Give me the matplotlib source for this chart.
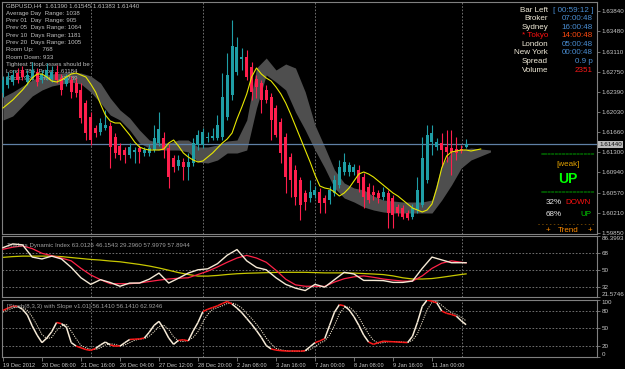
import numpy as np
import matplotlib
matplotlib.use("Agg")
import matplotlib.pyplot as plt
from matplotlib.collections import LineCollection
from matplotlib.transforms import blended_transform_factory

# ---------------- data (GBPUSD, H4) ----------------
opens = [1.62366, 1.6251, 1.62564, 1.62726, 1.6278, 1.62564, 1.62636, 1.62744,
         1.626, 1.62636, 1.62618, 1.62744, 1.62636, 1.62528, 1.626, 1.62546,
         1.6242, 1.62186, 1.61934, 1.61736, 1.61664, 1.61736, 1.61772, 1.61574,
         1.61412, 1.6134, 1.6125, 1.61304, 1.61376, 1.61286, 1.61286, 1.6134,
         1.61466, 1.61556, 1.61376, 1.61196, 1.61052, 1.61124, 1.61034, 1.61106,
         1.6143, 1.6143, 1.61556, 1.61556, 1.61556, 1.61574, 1.61934, 1.6233,
         1.62744, 1.62978, 1.63014, 1.62834, 1.62618, 1.62546, 1.6242, 1.62294,
         1.62096, 1.61844, 1.61574, 1.61214, 1.6098, 1.608, 1.60566, 1.60476,
         1.6053, 1.60584, 1.60476, 1.6044, 1.60566, 1.6071, 1.60944, 1.60944,
         1.60944, 1.6098, 1.60854, 1.60674, 1.60584, 1.60566, 1.60494, 1.60566,
         1.60476, 1.60314, 1.60296, 1.60206, 1.60134, 1.6026, 1.6035, 1.608,
         1.61484, 1.61394, 1.61466, 1.61394, 1.61376, 1.61358, 1.61358, 1.6139]
highs = [1.62672, 1.62744, 1.6278, 1.62816, 1.62852, 1.6278, 1.62924, 1.62816,
         1.6278, 1.62906, 1.62852, 1.6287, 1.62708, 1.62708, 1.62672, 1.62636,
         1.62546, 1.6224, 1.62024, 1.6179, 1.61916, 1.6206, 1.61844, 1.61646,
         1.61466, 1.61394, 1.61466, 1.61394, 1.6143, 1.61394, 1.61448, 1.6179,
         1.62024, 1.61664, 1.61448, 1.6125, 1.6125, 1.61196, 1.61286, 1.61556,
         1.617, 1.61736, 1.61664, 1.61736, 1.6197, 1.62726, 1.63086, 1.6368,
         1.63374, 1.63176, 1.6314, 1.62924, 1.6269, 1.626, 1.6251, 1.62366,
         1.6215, 1.61916, 1.61646, 1.61286, 1.6107, 1.60854, 1.6062, 1.608,
         1.60692, 1.60656, 1.6053, 1.60692, 1.6089, 1.6116, 1.61286, 1.61124,
         1.61088, 1.6107, 1.60926, 1.60746, 1.6071, 1.6062, 1.60674, 1.6062,
         1.6053, 1.60368, 1.6035, 1.6026, 1.60368, 1.60854, 1.61574, 1.6179,
         1.6179, 1.61556, 1.61646, 1.617, 1.617, 1.61574, 1.6143, 1.61545]
lows = [1.62294, 1.62456, 1.6251, 1.62546, 1.626, 1.6251, 1.626, 1.62492,
        1.62546, 1.626, 1.62564, 1.62546, 1.6233, 1.62492, 1.62276, 1.62294,
        1.61826, 1.6152, 1.6143, 1.61574, 1.6161, 1.617, 1.61016, 1.61196,
        1.6116, 1.61106, 1.61196, 1.61106, 1.61106, 1.61232, 1.61232, 1.61304,
        1.61412, 1.61196, 1.60656, 1.60944, 1.6098, 1.608, 1.608, 1.61052,
        1.6134, 1.61376, 1.61484, 1.6152, 1.6152, 1.6152, 1.6188, 1.6224,
        1.6269, 1.6278, 1.626, 1.6224, 1.62276, 1.62006, 1.62186, 1.6152,
        1.61574, 1.61106, 1.60566, 1.60494, 1.6035, 1.6008, 1.6026, 1.60404,
        1.60476, 1.60206, 1.60206, 1.60368, 1.60512, 1.60656, 1.6089, 1.60872,
        1.6089, 1.60584, 1.60296, 1.60386, 1.6044, 1.60386, 1.6044, 1.59936,
        1.59936, 1.60152, 1.60098, 1.6008, 1.60098, 1.60206, 1.60314, 1.60746,
        1.6125, 1.6134, 1.61034, 1.61124, 1.6089, 1.6116, 1.61286, 1.61383]
closes = [1.626, 1.62654, 1.6269, 1.626, 1.62654, 1.6269, 1.6278, 1.62564,
          1.62708, 1.6278, 1.62744, 1.626, 1.6242, 1.62654, 1.62384, 1.62366,
          1.61916, 1.61646, 1.6152, 1.61646, 1.61826, 1.6179, 1.61394, 1.61286,
          1.6125, 1.6125, 1.61394, 1.6134, 1.61304, 1.6134, 1.61376, 1.61556,
          1.61718, 1.6134, 1.60854, 1.61034, 1.6116, 1.61034, 1.61124, 1.61466,
          1.6161, 1.61664, 1.61574, 1.61592, 1.6179, 1.62294, 1.6269, 1.63212,
          1.63194, 1.63014, 1.62654, 1.62384, 1.62474, 1.6224, 1.6224, 1.6188,
          1.6161, 1.61286, 1.60854, 1.608, 1.60494, 1.6035, 1.60404, 1.60584,
          1.6062, 1.60386, 1.60386, 1.6062, 1.608, 1.61034, 1.61124, 1.6107,
          1.61034, 1.60746, 1.60494, 1.6044, 1.6053, 1.60476, 1.60584, 1.60206,
          1.6017, 1.60206, 1.60134, 1.60116, 1.60296, 1.6062, 1.61196, 1.6161,
          1.61646, 1.61484, 1.6134, 1.61304, 1.61304, 1.61286, 1.61322, 1.6144]

# shifted moving average (yellow), drawn a few bars past the last candle
ma_line = [1.62096, 1.62168, 1.6224, 1.6233, 1.6242, 1.62528, 1.62636, 1.62708,
           1.62708, 1.62654, 1.62582, 1.62564, 1.626, 1.62654, 1.62708, 1.62726,
           1.6269, 1.62654, 1.62528, 1.62384, 1.62168, 1.6197, 1.61862, 1.61826,
           1.61826, 1.61718, 1.6161, 1.61484, 1.61394, 1.61358, 1.6134, 1.6134,
           1.6134, 1.61358, 1.61466, 1.6152, 1.61412, 1.61286, 1.61214, 1.6116,
           1.61124, 1.61142, 1.61214, 1.61286, 1.61376, 1.61466, 1.61538, 1.61646,
           1.61898, 1.62114, 1.62348, 1.62654, 1.62816, 1.62708, 1.62636, 1.62582,
           1.62474, 1.62348, 1.62186, 1.61988, 1.61772, 1.61556, 1.6134, 1.61124,
           1.6089, 1.60692, 1.60656, 1.60638, 1.60584, 1.60512, 1.60566, 1.60656,
           1.60782, 1.60908, 1.60944, 1.60908, 1.60854, 1.60782, 1.6071, 1.60638,
           1.60566, 1.60512, 1.6044, 1.60368, 1.60296, 1.6026, 1.60224, 1.6026,
           1.60368, 1.60656, 1.61016, 1.61232, 1.61304, 1.61322, 1.6134, 1.6134,
           1.61322, 1.6134, 1.61358]

# grey shifted channel (every second bar)
band_idx = list(range(0, 101, 2))
band_upper = [1.62294, 1.62384, 1.62492, 1.626, 1.62672, 1.62708, 1.62726, 1.62744,
              1.62726, 1.62672, 1.62546, 1.62276, 1.6206, 1.61916, 1.617, 1.6152,
              1.61466, 1.61466, 1.6152, 1.6152, 1.61394, 1.61394, 1.6143, 1.61502,
              1.6152, 1.6188, 1.62816, 1.62996, 1.6278, 1.62888, 1.62816, 1.62384,
              1.6179, 1.61394, 1.6098, 1.60746, 1.60656, 1.6062, 1.60512, 1.6044,
              1.60422, 1.60404, 1.60404, 1.60404, 1.6044, 1.6107, 1.61304, 1.6134,
              1.61376, 1.61358, 1.6134]
band_lower = [1.6188, 1.61952, 1.62132, 1.62312, 1.6242, 1.62492, 1.62528, 1.62564,
              1.62528, 1.62384, 1.62186, 1.6197, 1.6188, 1.617, 1.61466, 1.61376,
              1.6134, 1.6134, 1.6134, 1.61304, 1.61124, 1.61106, 1.6116, 1.61286,
              1.61286, 1.6134, 1.62096, 1.6269, 1.62564, 1.6242, 1.62024, 1.617,
              1.6134, 1.61016, 1.60656, 1.60476, 1.60404, 1.60314, 1.6026, 1.60224,
              1.60206, 1.60206, 1.60206, 1.60206, 1.60206, 1.6044, 1.6071, 1.61016,
              1.6116, 1.61232, 1.61304]
last_price = 1.61440

# Traders Dynamic Index
tdi_idx = list(range(0, 96, 2)) + [95]
tdi_price = [74, 78, 77, 64, 62, 65, 62, 53, 42, 35, 40, 37, 33, 36.4, 36.4, 40.5,
             47, 36.4, 41.5, 47, 50.5, 51.5, 57, 66, 72, 60, 53, 50.5, 42, 35, 31, 28.4,
             35, 32.1, 40, 47.8, 46, 39.2, 39.2, 39, 37.1, 37.1, 38.5, 52, 64, 61, 58, 58, 58.0]
tdi_signal = [72.3, 74.5, 75.9, 73, 68, 65.5, 63, 60, 52, 45, 40, 35.7, 35.7, 35.7, 36.5, 38,
              39.5, 40.7, 41.5, 42, 45.5, 49, 53.5, 58.5, 63, 65.8, 63, 58.5, 50, 40.5, 34.5, 33,
              33, 32.8, 37.5, 41, 43, 44, 42.5, 40.7, 39.5, 38.5, 38.5, 44, 52, 57.5, 60, 58.5, 57.9]
tdi_base = [63.7, 64.5, 65, 65, 65, 65, 64.5, 63.5, 62.5, 61.5, 60.8, 59.8, 59, 57.6, 56.2, 54.5,
            52.4, 50, 47.5, 45.5, 43.8, 43.8, 44.5, 45.5, 46.3, 46.8, 47.1, 47.4, 47.7, 47.8, 47.8, 47.8,
            47.5, 47.2, 47.2, 47.2, 47, 46.5, 46, 45.4, 44, 42, 40.7, 40.7, 41.2, 42.5, 44, 45.5, 46.15]

# Stochastic (8,3,3)
stoch_main = [81, 85, 88.5, 88, 83, 73, 54, 38, 25, 33, 44, 60, 58, 52, 25, 19,
              16, 13, 11.5, 15, 21, 26, 21, 18.8, 18.8, 25, 30.5, 31, 31.5, 33, 43, 55,
              62, 49, 33, 22, 29, 30, 28, 45, 60, 79, 83, 86, 89, 93, 96.5, 92,
              85, 77, 67, 57, 46, 34, 20, 14, 12, 11, 10.5, 10, 10, 10, 11, 18,
              25, 28, 32, 55, 78, 91, 89, 82, 70, 55, 38, 26, 22, 25, 27.5, 27,
              26.5, 26, 25.5, 25, 36, 60, 88, 99, 97, 94, 80, 76, 74, 71, 63, 56.14]
stoch_signal = [78, 82, 85, 87.5, 86.5, 81, 70, 55, 39, 32, 34, 46, 54, 57, 45, 32,
                20, 16, 13.5, 13, 16, 21, 23, 22, 19.5, 21, 25, 29, 31, 32, 36, 44,
                53, 55, 48, 35, 28, 27, 29, 34, 44, 61, 74, 83, 86, 89, 93, 94,
                91, 85, 76, 67, 57, 46, 33, 23, 15, 12.5, 11, 10.5, 10, 10, 10.5, 13,
                18, 24, 28, 38, 55, 75, 86, 87, 80, 69, 54, 40, 29, 24, 25, 26.5,
                27, 26.5, 26, 25.5, 29, 40, 61, 82, 95, 97, 90, 83, 77, 74, 69, 62.92]

time_ticks = list(range(0, 89, 8))
time_labels = ["19 Dec 2012", "20 Dec 08:00", "21 Dec 16:00", "26 Dec 04:00",
               "27 Dec 12:00", "28 Dec 20:00", "2 Jan 08:00", "3 Jan 16:00",
               "7 Jan 00:00", "8 Jan 08:00", "9 Jan 16:00", "11 Jan 00:00"]
price_ticks = [1.63840, 1.63480, 1.63110, 1.62750, 1.62390, 1.62030,
               1.61660, 1.61300, 1.60940, 1.60570, 1.60210, 1.59850]

# ---------------- style ----------------
plt.rcParams['font.family'] = ['Liberation Sans Narrow', 'Liberation Sans', 'DejaVu Sans']
WIDE = ['Liberation Sans', 'DejaVu Sans']
BG = "black"
FRAME = "#808080"
AXTXT = "#c8c8c8"
BULL = "#1f9ea6"
BEAR = "#ff1f4d"
FS = 4.5

W, H = 625, 369


def fx(x):
    return x / W


def fy(y):
    return 1 - y / H


fig = plt.figure(figsize=(6.25, 3.69), dpi=100, facecolor=BG)
ax = fig.add_axes([fx(2), fy(234), 595 / W, 232 / H], facecolor=BG)
ax_tdi = fig.add_axes([fx(2), fy(297), 595 / W, 61 / H], facecolor=BG)
ax_sto = fig.add_axes([fx(2), fy(357), 595 / W, 57.5 / H], facecolor=BG)

grid_x = [18.15, 41.1, 64.1, 94.1]
for a in (ax, ax_tdi, ax_sto):
    a.set_xlim(-0.2, 121.85)
    for s in a.spines.values():
        s.set_color(FRAME)
        s.set_linewidth(0.8)
    a.yaxis.tick_right()
    a.tick_params(axis="y", colors=FRAME, labelcolor=AXTXT, labelsize=FS,
                  length=2, width=0.6, pad=1.5)
    a.tick_params(axis="x", bottom=False, labelbottom=False)
    for gx in grid_x:
        a.axvline(gx, color=FRAME, lw=0.6, ls=(0, (2, 2)), zorder=0.5)

# ---------------- main price panel ----------------
x = np.arange(len(opens))
o = np.array(opens)
c = np.array(closes)
up = c >= o
col = np.where(up, BULL, BEAR)
ax.vlines(x, lows, highs, colors=col, lw=0.8, zorder=3)
body_lo = np.minimum(o, c)
body_h = np.maximum(np.abs(c - o), 0.00005)
ax.bar(x, body_h, bottom=body_lo, width=0.62, color=col, lw=0, zorder=3.5)

ax.fill_between(band_idx, band_lower, band_upper, color="#4e4e4e", lw=0, zorder=1)
ax.plot(np.arange(len(ma_line)), ma_line, color="#e8e800", lw=0.8, zorder=4)
ax.axhline(last_price, color="#5f80a6", lw=0.9, zorder=2)

ax.set_ylim(1.59828, 1.64004)
ax.set_yticks(price_ticks)
ax.set_yticklabels([f"{p:.5f}" for p in price_ticks])
tr = blended_transform_factory(ax.transAxes, ax.transData)
ax.text(1.0035, last_price, f"{last_price:.5f}", transform=tr, fontsize=FS,
        color="#101010", va="center", ha="left",
        bbox=dict(boxstyle="square,pad=0.15", fc="#b8b8b8", ec="none"))

# info text, top-left (behind candles)
info = ["GBPUSD,H4  1.61390 1.61545 1.61383 1.61440",
        "Average Day  Range: 1038",
        "Prev 01  Day  Range: 905",
        "Prev 05  Days Range: 1064",
        "Prev 10  Days Range: 1181",
        "Prev 20  Days Range: 1005",
        "Room Up:     768",
        "Room Down: 933",
        "Tightest StopLosses should be :",
        "Long:  786  Price: 1.61184",
        "Short: 933  Price: 1.62789"]
for k, line in enumerate(info):
    ax.text(fx(6), fy(6 + 7.3 * k), line, transform=fig.transFigure, fontsize=4.4,
            color="#c0c0c0", va="center", ha="left", zorder=2)

# session clock block, top-right
rows = [("Bar Left", "[ 00:59:12 ]", "#f0ead8", "#4a8ed4"),
        ("Broker", "07:00:48", "#f0ead8", "#4a8ed4"),
        ("Sydney", "16:00:48", "#f0ead8", "#4a8ed4"),
        ("* Tokyo", "14:00:48", "#ff1010", "#ff4a10"),
        ("London", "05:00:48", "#f0ead8", "#4a8ed4"),
        ("New York", "00:00:48", "#f0ead8", "#4a8ed4"),
        ("Spread", "0.9 p", "#f0ead8", "#4a8ed4"),
        ("Volume", "2351", "#f0ead8", "#ff1a1a")]
for k, (lab, val, c1, c2) in enumerate(rows):
    yy = fy(10 + 8.6 * k)
    fig.text(fx(548), yy, lab, fontsize=5.8, color=c1, ha="right", va="center", family=WIDE)
    fig.text(fx(593), yy, val, fontsize=5.8, color=c2, ha="right", va="center", family=WIDE)

# trend block, right
eq = "=" * 15
fig.text(fx(567.5), fy(155), eq, fontsize=4.5, color="#00c400", ha="center", va="center")
fig.text(fx(568), fy(165), "[weak]", fontsize=5.8, color="#e0a000", ha="center", va="center",
         family=WIDE)
fig.text(fx(568), fy(179), "UP", fontsize=10, color="#00ff00", ha="center", va="center",
         fontweight="bold")
fig.text(fx(567.5), fy(193), eq, fontsize=4.5, color="#00c400", ha="center", va="center")
fig.text(fx(546), fy(202), "32%", fontsize=5.8, color="#e8e8e8", ha="left", va="center",
         family=WIDE)
fig.text(fx(591), fy(202), "DOWN", fontsize=5.8, color="#ff1010", ha="right", va="center",
         family=WIDE)
fig.text(fx(546), fy(214), "68%", fontsize=5.8, color="#e8e8e8", ha="left", va="center",
         family=WIDE)
fig.text(fx(591), fy(214), "UP", fontsize=5.8, color="#00d000", ha="right", va="center",
         family=WIDE)
fig.text(fx(567.5), fy(224), "- " * 15, fontsize=4.5, color="#e08a00", ha="center", va="center")
fig.text(fx(548), fy(230.5), "+", fontsize=5.8, color="#ff8c00", ha="center", va="center",
         family=WIDE)
fig.text(fx(568), fy(230.5), "Trend", fontsize=5.8, color="#ff8c00", ha="center", va="center",
         family=WIDE)
fig.text(fx(590), fy(230.5), "+", fontsize=5.8, color="#ff8c00", ha="center", va="center",
         family=WIDE)

# ---------------- TDI panel ----------------
ax_tdi.set_ylim(21.5746, 86.3993)
for lv in (68, 50, 32):
    ax_tdi.axhline(lv, color=FRAME, lw=0.6, ls=(0, (2, 2)), zorder=0.5)
ax_tdi.plot(tdi_idx, tdi_base, color="#c8c800", lw=0.9, zorder=2)
ax_tdi.plot(tdi_idx, tdi_signal, color="#ff2348", lw=0.9, zorder=3)
ax_tdi.plot(tdi_idx, tdi_price, color="#f6ead6", lw=1.0, zorder=4)
ax_tdi.set_yticks([86.3993, 68, 50, 32, 21.5746])
ax_tdi.set_yticklabels(["86.3993", "68", "50", "32", "21.5746"])
tl = ax_tdi.get_yticklabels()
tl[0].set_va("top")
tl[-1].set_va("bottom")
ax_tdi.text(0.008, 0.84, "Traders Dynamic Index 63.0126 46.1543 29.2960 57.9979 57.8944",
            transform=ax_tdi.transAxes, fontsize=4.4, color="#a0a0a0", ha="left", va="center")

# ---------------- Stochastic panel ----------------
ax_sto.set_ylim(0, 100)
for lv in (80, 50, 20):
    ax_sto.axhline(lv, color=FRAME, lw=0.6, ls=(0, (2, 2)), zorder=0.5)
sx = np.arange(len(stoch_main))
sv = np.array(stoch_main)
ax_sto.plot(sx, stoch_signal, color="#f0e4cc", lw=0.7, ls=(0, (1.2, 1.2)), zorder=2)
segs = np.stack([np.column_stack([sx[:-1], sv[:-1]]), np.column_stack([sx[1:], sv[1:]])], axis=1)
flat = np.abs(np.diff(sv)) <= 4.5
seg_cols = np.where(flat, "#ff1a1a", "#f8ecd8")
ax_sto.add_collection(LineCollection(segs, colors=seg_cols, linewidths=1.1, zorder=3))
ax_sto.set_yticks([100, 80, 50, 20, 0])
ax_sto.set_yticklabels(["100", "80", "50", "20", "0"])
sl = ax_sto.get_yticklabels()
sl[0].set_va("top")
sl[-1].set_va("bottom")
ax_sto.text(0.008, 0.88, "[Stoch(8,3,3) with Slope v1.01] 56.1410 56.1410 62.9246",
            transform=ax_sto.transAxes, fontsize=4.4, color="#a0a0a0", ha="left", va="center")

ax_sto.set_xticks(time_ticks)
ax_sto.set_xticklabels(time_labels)
ax_sto.tick_params(axis="x", bottom=True, labelbottom=True, colors=FRAME,
                   labelcolor=AXTXT, labelsize=4.1, length=3, width=0.6, pad=1.5)
for lbl in ax_sto.get_xticklabels():
    lbl.set_ha("left")

fig.savefig("out.png", dpi=100, facecolor=BG)
